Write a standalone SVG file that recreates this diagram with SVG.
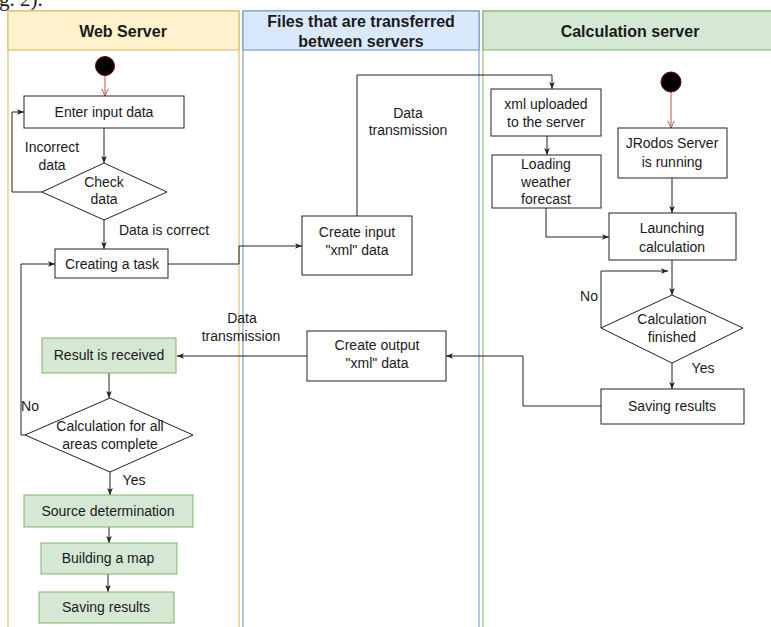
<svg xmlns="http://www.w3.org/2000/svg" width="771" height="627" viewBox="0 0 771 627">
<style>
text{font-family:"Liberation Sans",Arial,sans-serif;font-size:14px;fill:#1a1a1a;text-anchor:middle;dominant-baseline:central}
.h{font-weight:bold;font-size:16px}
.n{fill:#fff;stroke:#222;stroke-width:1}
.g{fill:#d5e8d4;stroke:#82b366;stroke-width:1}
.c{fill:none;stroke:#222;stroke-width:1}
.r{fill:none;stroke:#b85450;stroke-width:1}
</style>
<defs>
<marker id="a" viewBox="0 0 10 10" refX="10" refY="5" markerWidth="7" markerHeight="7" markerUnits="userSpaceOnUse" orient="auto"><path d="M0,1 L10,5 L0,9 L2.5,5 z" fill="#222"/></marker>
<marker id="o" viewBox="0 0 10 10" refX="10" refY="5" markerWidth="8" markerHeight="8" markerUnits="userSpaceOnUse" orient="auto"><path d="M1,1 L10,5 L1,9" fill="none" stroke="#b85450" stroke-width="1.2"/></marker>
</defs>
<rect width="771" height="627" fill="#fff"/>
<text x="-1" y="6" style="font-family:'Liberation Serif','Times New Roman',serif;font-size:21px;text-anchor:start;dominant-baseline:auto" >g. 2).</text>
<g id="lane-web">
<rect x="8" y="11" width="231" height="620" fill="#fff" stroke="#d6b656"/>
<rect x="8" y="11" width="231" height="39" fill="#fff2cc" stroke="#d6b656"/>
<text class="h" x="123" y="31">Web Server</text>
</g>
<g id="lane-files">
<rect x="243" y="11" width="236" height="620" fill="#fff" stroke="#6c8ebf"/>
<rect x="243" y="11" width="236" height="39" fill="#dae8fc" stroke="#6c8ebf"/>
<text class="h" x="361" y="21">Files that are transferred</text>
<text class="h" x="361" y="41">between servers</text>
</g>
<g id="lane-calc">
<rect x="483" y="11" width="300" height="620" fill="#fff" stroke="#82b366"/>
<rect x="483" y="11" width="300" height="39" fill="#d5e8d4" stroke="#82b366"/>
<text class="h" x="630" y="31">Calculation server</text>
</g>
<g id="connectors">
<path class="r" d="M105,76 V96" marker-end="url(#o)"/>
<path class="c" d="M104,128 V163" marker-end="url(#a)"/>
<path class="c" d="M42,192 H12 V112 H24" marker-end="url(#a)"/>
<path class="c" d="M104,220 V249" marker-end="url(#a)"/>
<path class="c" d="M168,264 H239 V246 H302" marker-end="url(#a)"/>
<path class="c" d="M357,216 V75 H552 V89" marker-end="url(#a)"/>
<path class="c" d="M547,136 V155" marker-end="url(#a)"/>
<path class="c" d="M546,208 V237 H609" marker-end="url(#a)"/>
<path class="r" d="M671,92 V128" marker-end="url(#o)"/>
<path class="c" d="M672,178 V213" marker-end="url(#a)"/>
<path class="c" d="M672,260 V295" marker-end="url(#a)"/>
<path class="c" d="M601,328 V271 H668" marker-end="url(#a)"/>
<path class="c" d="M672,363 V389" marker-end="url(#a)"/>
<path class="c" d="M601,406 H523 V356 H446" marker-end="url(#a)"/>
<path class="c" d="M307,356 H177" marker-end="url(#a)"/>
<path class="c" d="M109,373 V398" marker-end="url(#a)"/>
<path class="c" d="M25,435 H21 V264 H55" marker-end="url(#a)"/>
<path class="c" d="M110,472 V495" marker-end="url(#a)"/>
<path class="c" d="M109,527 V543" marker-end="url(#a)"/>
<path class="c" d="M108,574 V592" marker-end="url(#a)"/>
<text x="52" y="147">Incorrect</text>
<text x="52" y="165">data</text>
<text x="164" y="230">Data is correct</text>
<text x="408" y="113">Data</text>
<text x="408" y="130">transmission</text>
<text x="242" y="318">Data</text>
<text x="241" y="336">transmission</text>
<text x="589" y="296">No</text>
<text x="703" y="368">Yes</text>
<text x="30" y="406">No</text>
<text x="134" y="480">Yes</text>
</g>
<g id="start-web"><circle cx="105" cy="66" r="9.5" fill="#000" stroke="#6b0000"/></g>
<g id="enter-input"><rect class="n" x="24" y="96" width="160" height="32"/><text x="104" y="112">Enter input data</text></g>
<g id="check-data"><path class="n" d="M104,163 L167,192 L104,220 L42,192 Z"/><text x="104" y="182">Check</text><text x="104" y="199">data</text></g>
<g id="creating-task"><rect class="n" x="55" y="249" width="113" height="29"/><text x="112" y="264">Creating a task</text></g>
<g id="create-input"><rect class="n" x="302" y="216" width="110" height="59"/><text x="357" y="232">Create input</text><text x="357" y="250">"xml" data</text></g>
<g id="xml-uploaded"><rect class="n" x="491" y="89" width="110" height="47"/><text x="546" y="104">xml uploaded</text><text x="546" y="122">to the server</text></g>
<g id="loading-weather"><rect class="n" x="492" y="155" width="109" height="53"/><text x="546" y="164">Loading</text><text x="546" y="182">weather</text><text x="546" y="199">forecast</text></g>
<g id="start-calc"><circle cx="671" cy="82" r="10" fill="#000" stroke="#6b0000"/></g>
<g id="jrodos"><rect class="n" x="618" y="128" width="109" height="50"/><text x="672" y="143">JRodos Server</text><text x="672" y="162">is running</text></g>
<g id="launching"><rect class="n" x="609" y="213" width="127" height="47"/><text x="672" y="228">Launching</text><text x="672" y="247">calculation</text></g>
<g id="calc-finished"><path class="n" d="M672,295 L743,328 L672,363 L601,328 Z"/><text x="672" y="319">Calculation</text><text x="672" y="337">finished</text></g>
<g id="saving-calc"><rect class="n" x="601" y="389" width="143" height="35"/><text x="672" y="406">Saving results</text></g>
<g id="create-output"><rect class="n" x="307" y="331" width="139" height="50"/><text x="377" y="345">Create output</text><text x="377" y="363">"xml" data</text></g>
<g id="result-received"><rect class="g" x="42" y="338" width="134" height="35"/><text x="109" y="355">Result is received</text></g>
<g id="calc-all"><path class="n" d="M110,398 L193,435 L110,472 L25,435 Z"/><text x="110" y="426">Calculation for all</text><text x="110" y="444">areas complete</text></g>
<g id="source-det"><rect class="g" x="24" y="495" width="169" height="32"/><text x="108" y="511">Source determination</text></g>
<g id="building-map"><rect class="g" x="41" y="543" width="136" height="31"/><text x="108" y="558">Building a map</text></g>
<g id="saving-web"><rect class="g" x="39" y="592" width="135" height="31"/><text x="106" y="607">Saving results</text></g>
</svg>
